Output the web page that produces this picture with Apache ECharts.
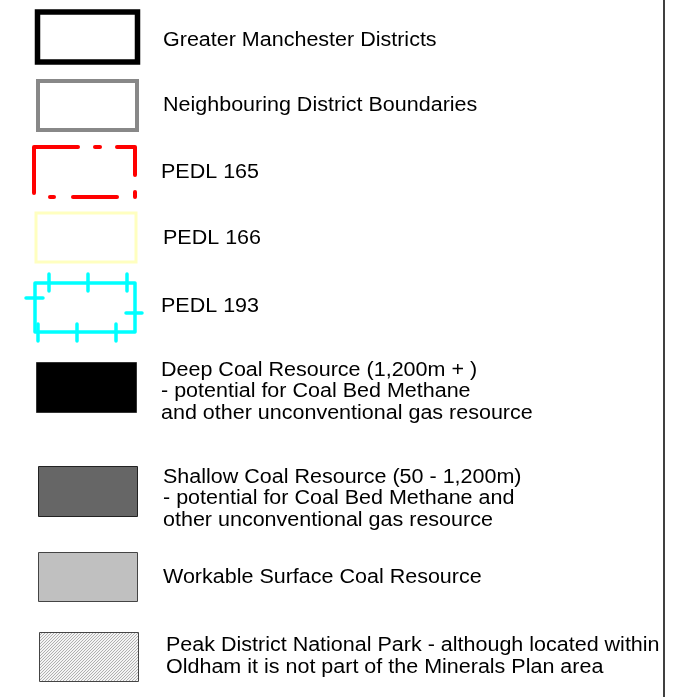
<!DOCTYPE html>
<html><head><meta charset="utf-8">
<script src="https://cdn.jsdelivr.net/npm/echarts@6/dist/echarts.min.js"></script>
<style>html,body{margin:0;padding:0;background:#fff}#c{width:683px;height:697px}</style>
</head><body><div id="c"></div>
<script>
const labels = [
  ['Greater Manchester Districts'],
  ['Neighbouring District Boundaries'],
  ['PEDL 165'],
  ['PEDL 166'],
  ['PEDL 193'],
  ['Deep Coal Resource (1,200m + )', '- potential for Coal Bed Methane', 'and other unconventional gas resource'],
  ['Shallow Coal Resource (50 - 1,200m)', '- potential for Coal Bed Methane and', 'other unconventional gas resource'],
  ['Workable Surface Coal Resource'],
  ['Peak District National Park - although located within', 'Oldham it is not part of the Minerals Plan area']
];
const labelX = [163, 163, 161, 163, 161, 161, 163, 163, 166];
const labelY = [40.5, 105.5, 172.5, 238.5, 306.5, 370, 477, 577.5, 645.5];

const chart = echarts.init(document.getElementById('c'), null, {renderer: 'canvas'});

// hatch pattern
const pc = document.createElement('canvas');
pc.width = 3; pc.height = 3;
const g = pc.getContext('2d');
g.fillStyle = '#f4f4f4'; g.fillRect(0, 0, 3, 3);
g.fillStyle = '#b0b0b0';
g.fillRect(2, 0, 1, 1); g.fillRect(1, 1, 1, 1); g.fillRect(0, 2, 1, 1);

const els = [];
const font = '20px "Liberation Sans", Arial, sans-serif';
labels.forEach((lines, i) => {
  lines.forEach((t, j) => {
    els.push({type: 'text', x: labelX[i], y: labelY[i] + j * 21.8, scaleX: 1.075,
      style: {text: t, font: font, fill: '#000', textVerticalAlign: 'middle'}});
  });
});
// swatches
els.push({type: 'rect', shape: {x: 37.5, y: 12, width: 100, height: 50}, style: {fill: '#fff', stroke: '#000', lineWidth: 5.5}});
els.push({type: 'rect', shape: {x: 38, y: 81, width: 99, height: 49}, style: {fill: '#fff', stroke: '#888', lineWidth: 4}});
const red = [
  [[34, 193], [34, 147], [78, 147]],
  [[95, 147], [100, 147]],
  [[117, 147], [135, 147], [135, 175]],
  [[135, 192], [135, 197]],
  [[117, 197], [73, 197]],
  [[50, 197], [54, 197]]
];
red.forEach(p => els.push({type: 'polyline', shape: {points: p}, style: {fill: null, stroke: '#ff0000', lineWidth: 4, lineCap: 'round', lineJoin: 'round'}}));
els.push({type: 'rect', shape: {x: 36, y: 213, width: 100, height: 49}, style: {fill: 'none', stroke: '#ffffc0', lineWidth: 3}});
els.push({type: 'rect', shape: {x: 35, y: 283, width: 100, height: 49}, style: {fill: 'none', stroke: '#00ffff', lineWidth: 3.5, lineJoin: 'round'}});
const ticks = [[49,274,49,291],[88,274,88,291],[127,274,127,291],[38,324,38,341],[77,324,77,341],[116,324,116,341],[26,298,43,298],[126,313,142,313]];
ticks.forEach(t => els.push({type: 'line', shape: {x1: t[0], y1: t[1], x2: t[2], y2: t[3]}, style: {stroke: '#00ffff', lineWidth: 3.5, lineCap: 'round'}}));
els.push({type: 'rect', shape: {x: 36.5, y: 362.5, width: 100, height: 50}, style: {fill: '#000', stroke: '#333', lineWidth: 1}});
els.push({type: 'rect', shape: {x: 38.5, y: 466.5, width: 99, height: 50}, style: {fill: '#666', stroke: '#222', lineWidth: 1}});
els.push({type: 'rect', shape: {x: 38.5, y: 552.5, width: 99, height: 49}, style: {fill: '#c0c0c0', stroke: '#444', lineWidth: 1}});
els.push({type: 'rect', shape: {x: 39.5, y: 632.5, width: 99, height: 49}, style: {fill: {image: pc, repeat: 'repeat'}, stroke: '#444', lineWidth: 1}});
els.push({type: 'line', shape: {x1: 664, y1: 0, x2: 664, y2: 697}, style: {stroke: '#000', lineWidth: 1.5}});

chart.setOption({animation: false, graphic: {elements: els}});
</script></body></html>
